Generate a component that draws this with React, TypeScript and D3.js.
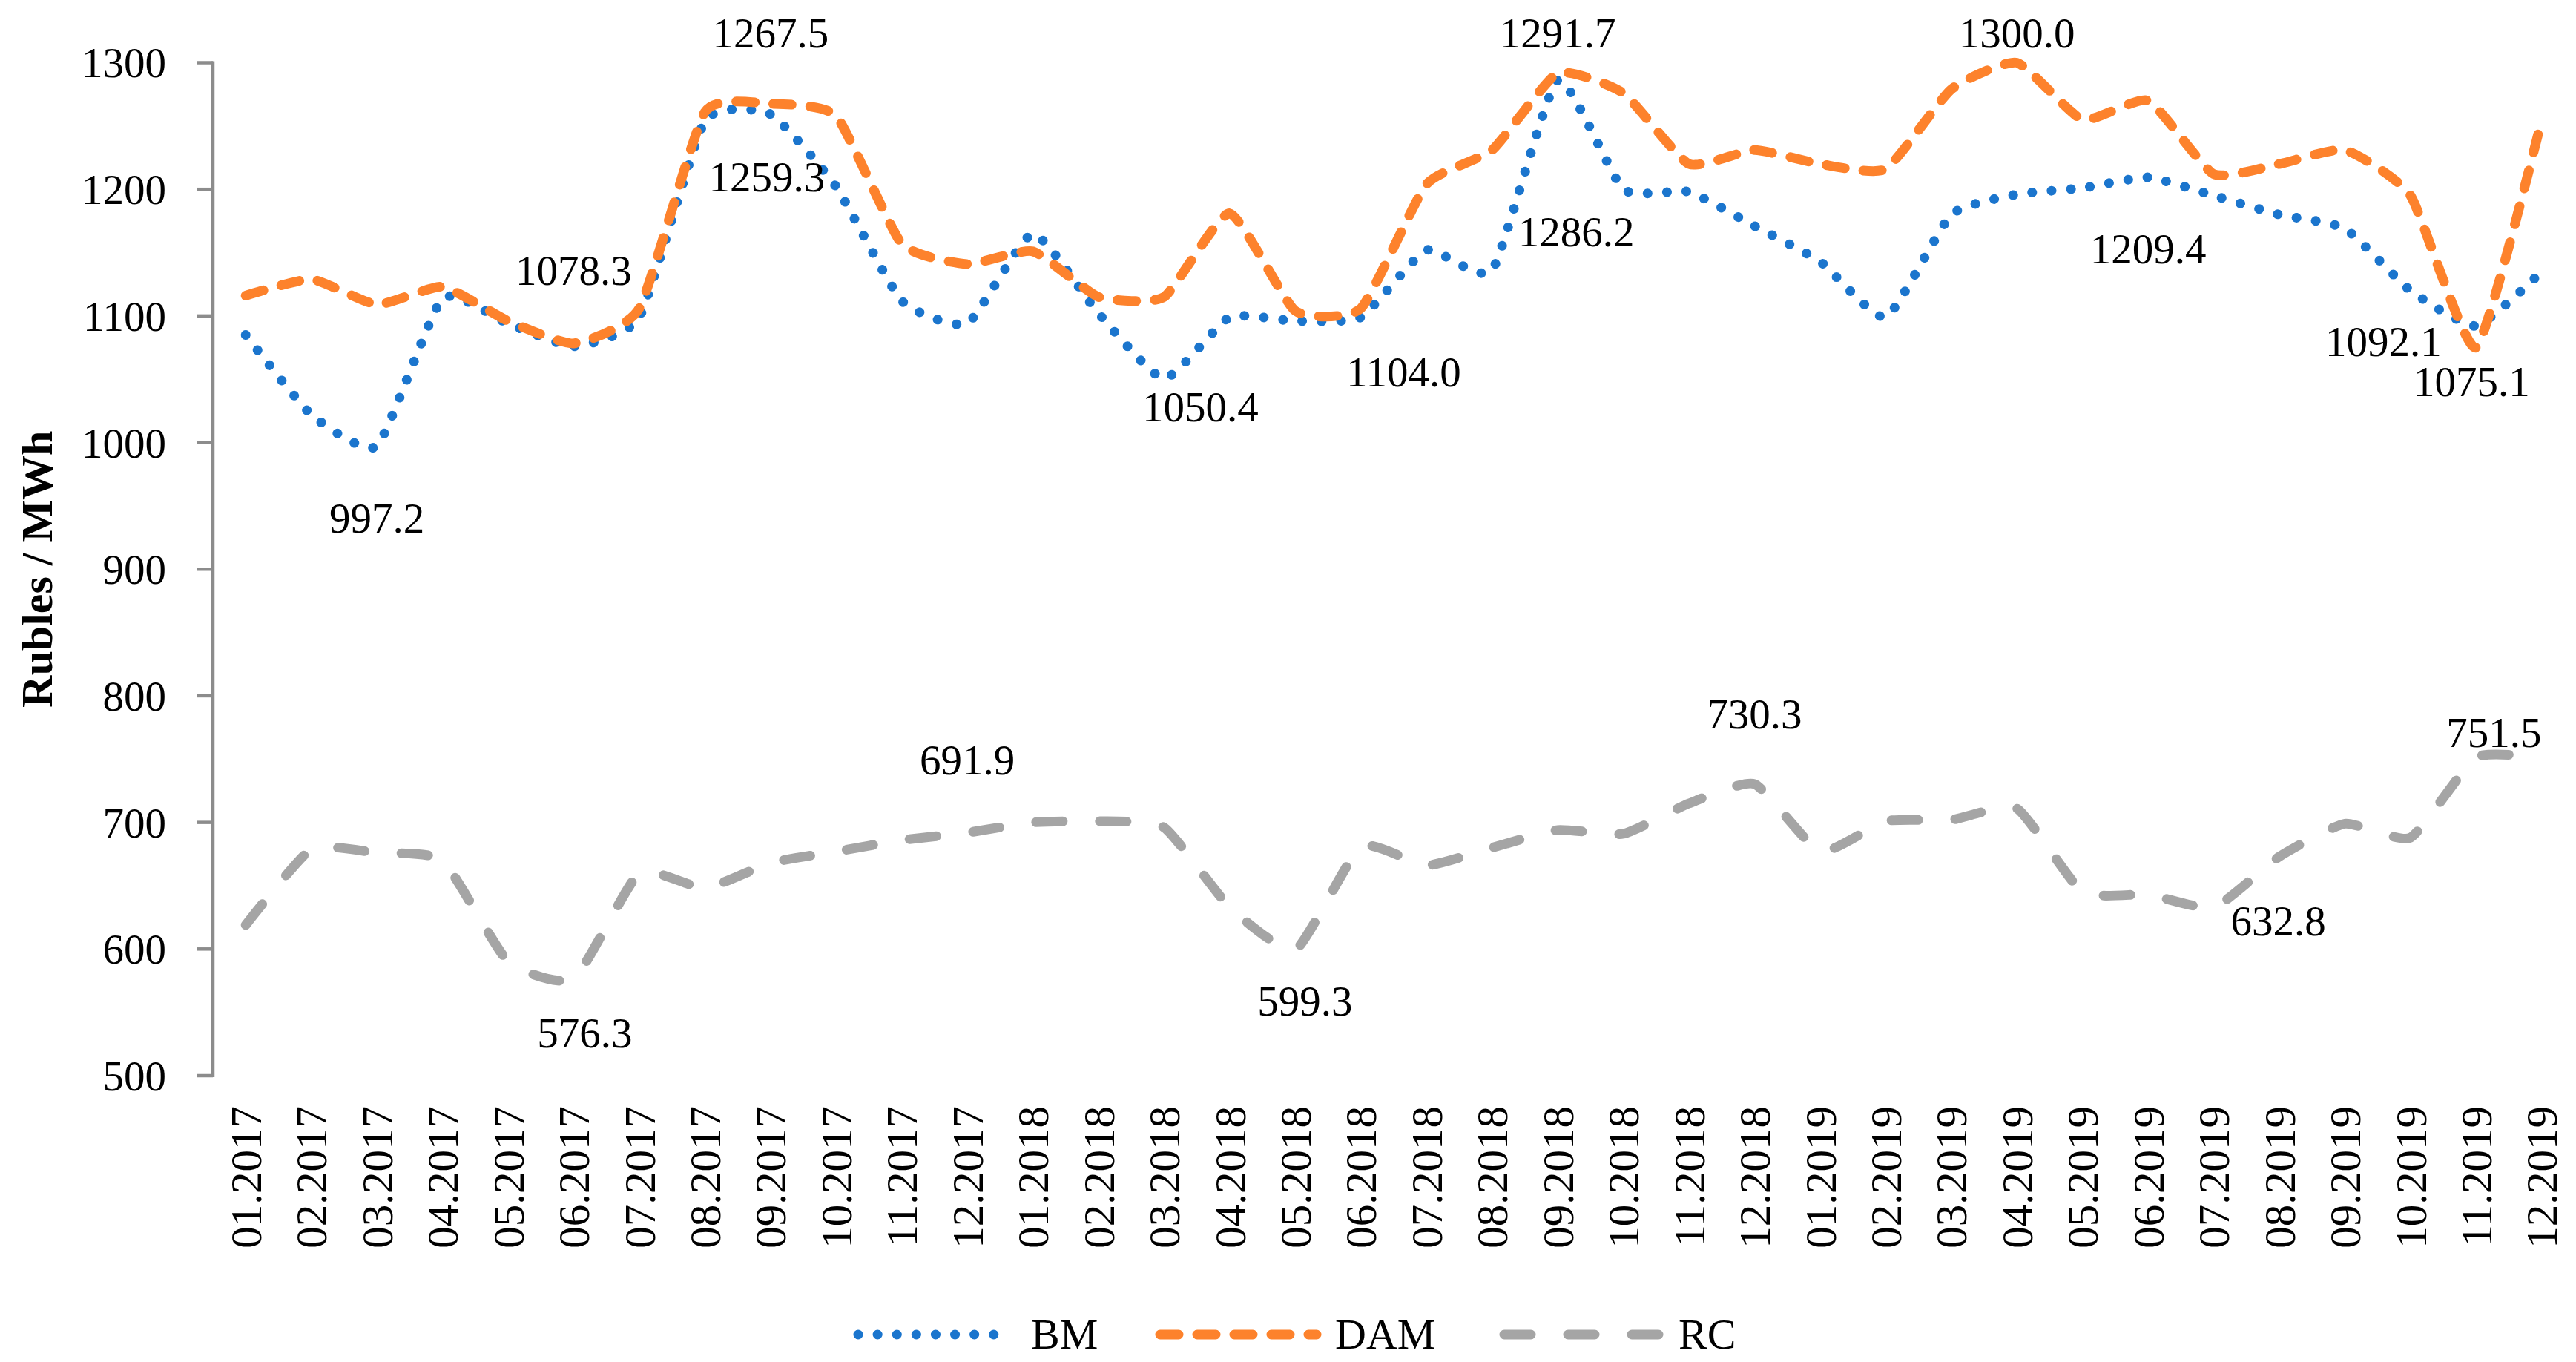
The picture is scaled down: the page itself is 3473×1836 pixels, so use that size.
import * as d3 from "d3";

// months on the category axis
const months: string[] = [
  "01.2017", "02.2017", "03.2017", "04.2017", "05.2017", "06.2017",
  "07.2017", "08.2017", "09.2017", "10.2017", "11.2017", "12.2017",
  "01.2018", "02.2018", "03.2018", "04.2018", "05.2018", "06.2018",
  "07.2018", "08.2018", "09.2018", "10.2018", "11.2018", "12.2018",
  "01.2019", "02.2019", "03.2019", "04.2019", "05.2019", "06.2019",
  "07.2019", "08.2019", "09.2019", "10.2019", "11.2019", "12.2019",
];

// balancing market
const bm: number[] = [
  1085, 1022, 997.2, 1114, 1094, 1076, 1099, 1254, 1259.3, 1202, 1112, 1094,
  1165, 1102, 1050.4, 1099, 1096, 1099, 1152, 1136, 1286.2, 1200, 1198, 1171,
  1143, 1099, 1180, 1196, 1201, 1209.4, 1195, 1180, 1169, 1120, 1092.1, 1135,
];

// day-ahead market
const dam: number[] = [
  1116, 1129, 1109, 1123, 1096, 1078.3, 1106, 1261, 1267.5, 1258, 1157, 1141,
  1151, 1115, 1115, 1181, 1104.0, 1106, 1204, 1231, 1291.7, 1276, 1220, 1231,
  1220, 1216, 1279, 1300.0, 1255, 1270, 1212, 1220, 1231, 1195, 1075.1, 1255,
];

// regulated contracts
const rc: number[] = [
  619, 679, 676, 670, 590, 576.3, 660, 648, 668, 677, 686, 691.9,
  700, 701, 696, 633, 599.3, 681, 666, 680, 694, 691, 715, 730.3,
  677, 701, 702, 711, 645, 643, 632.8, 673, 699, 688, 751.5, 751,
];

const yTicks: number[] = [500, 600, 700, 800, 900, 1000, 1100, 1200, 1300];

const seriesNames = ["BM", "DAM", "RC"];

// which points carry a value label (series, month index)
const labelled: [string, number][] = [
  ["BM", 2], ["DAM", 5], ["DAM", 8], ["BM", 8], ["BM", 14], ["DAM", 16],
  ["DAM", 20], ["BM", 20], ["DAM", 27], ["BM", 29], ["BM", 34], ["DAM", 34],
  ["RC", 5], ["RC", 11], ["RC", 16], ["RC", 23], ["RC", 30], ["RC", 34],
];

// where each label sits relative to its point (px)
const labelNudge: [number, number][] = [
  [0, 117], [0, -79], [0, -76], [-5, 104], [49, 57], [146, 102],
  [0, -35], [25, 224], [0, -21], [0, 116], [-125, 41], [-6, 66],
  [15, 92], [0, -78], [13, 88], [0, -75], [87, 38], [24, -14],
];

const W = 3473;
const H = 1836;
const FONT = "'Liberation Serif', 'Times New Roman', serif";

const styles: Record<string, { color: string; dash: string; width: number }> = {
  BM: { color: "#1b75cd", dash: "0.1 26", width: 13 },
  DAM: { color: "#fd822c", dash: "25 25", width: 13 },
  RC: { color: "#a5a5a5", dash: "36 50", width: 13 },
};

export default function App() {
  const values: Record<string, number[]> = { BM: bm, DAM: dam, RC: rc };

  const x = d3.scaleBand<string>().domain(months).range([287, 3471]).padding(0);
  const cx = (i: number) => (x(months[i]) || 0) + x.bandwidth() / 2;
  const y = d3.scaleLinear().domain([500, 1300]).range([1450, 84.5]);

  // Excel-style light smoothing
  const line = d3
    .line<number>()
    .x((_, i) => cx(i))
    .y((d) => y(d))
    .curve(d3.curveCardinal.tension(0.5));

  const legendX: Record<string, [number, number, number]> = {
    BM: [1157, 1355, 1390],
    DAM: [1564, 1775, 1800],
    RC: [2028, 2239, 2263],
  };

  return (
    <svg
      width={W}
      height={H}
      viewBox={`0 0 ${W} ${H}`}
      style={{ position: "absolute", left: 0, top: 0, background: "#fff" }}
      fontFamily={FONT}
    >
      <rect width={W} height={H} fill="#fff" />

      {/* y axis */}
      <line x1={287} x2={287} y1={y(1300) - 2} y2={y(500) + 2} stroke="#8c8c8c" strokeWidth={4.5} />
      {yTicks.map((t) => (
        <g key={t}>
          <line x1={266} x2={287} y1={y(t)} y2={y(t)} stroke="#8c8c8c" strokeWidth={4.5} />
          <text x={224} y={y(t)} dy="0.35em" textAnchor="end" fontSize={57} fill="#000">
            {t}
          </text>
        </g>
      ))}

      {/* y title */}
      <text
        transform={`translate(49,${(y(1300) + y(500)) / 2}) rotate(-90)`}
        dy="0.35em"
        textAnchor="middle"
        fontSize={60}
        fontWeight="bold"
      >
        Rubles / MWh
      </text>

      {/* x labels */}
      {months.map((m, i) => (
        <text
          key={m}
          transform={`translate(${cx(i)},1491) rotate(-90)`}
          dy="0.35em"
          textAnchor="end"
          fontSize={59}
        >
          {m}
        </text>
      ))}

      {/* series */}
      {seriesNames.map((s) => (
        <path
          key={s}
          d={line(values[s]) || ""}
          fill="none"
          stroke={styles[s].color}
          strokeWidth={styles[s].width}
          strokeDasharray={styles[s].dash}
          strokeLinecap="round"
          strokeLinejoin="round"
        />
      ))}

      {/* value labels */}
      {labelled.map(([s, i], k) => (
        <text
          key={`${s}-${i}`}
          x={cx(i) + labelNudge[k][0]}
          y={y(values[s][i]) + labelNudge[k][1]}
          textAnchor="middle"
          fontSize={57}
        >
          {values[s][i].toFixed(1)}
        </text>
      ))}

      {/* legend */}
      {seriesNames.map((s) => (
        <g key={s}>
          <line
            x1={legendX[s][0]}
            x2={legendX[s][1]}
            y1={1799}
            y2={1799}
            stroke={styles[s].color}
            strokeWidth={styles[s].width}
            strokeDasharray={styles[s].dash}
            strokeLinecap="round"
          />
          <text x={legendX[s][2]} y={1818} fontSize={58}>
            {s}
          </text>
        </g>
      ))}
    </svg>
  );
}
